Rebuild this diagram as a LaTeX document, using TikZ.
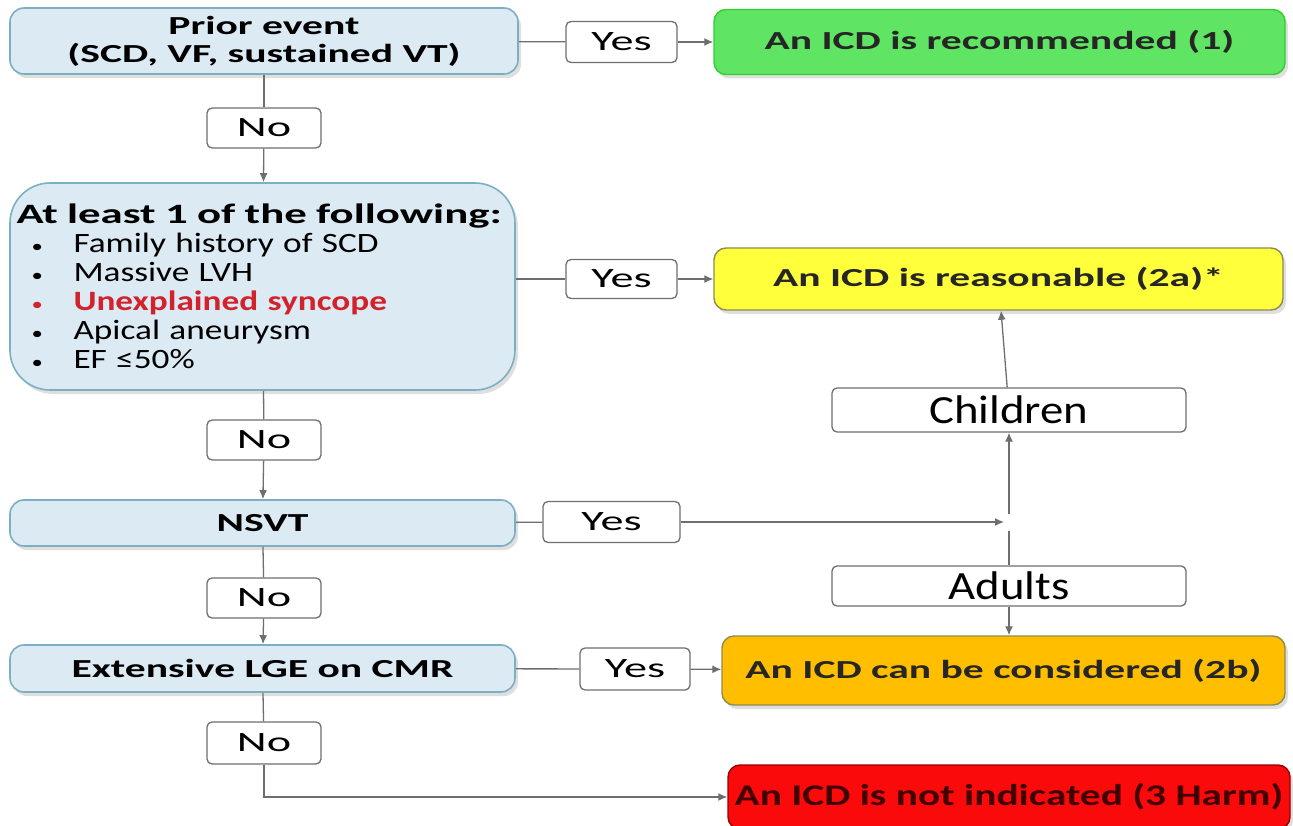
\documentclass[tikz,border=0pt]{standalone}
\usepackage{fontspec}
\setmainfont{Carlito}
\newfontfamily\qfont{Carlito}[FakeStretch=1.6]
\newfontfamily\listfont{Carlito}[FakeStretch=1.26]
\newfontfamily\lblfont{Carlito}[FakeStretch=1.65]
\newfontfamily\agefont{Carlito}[FakeStretch=1.17]
\newfontfamily\harmfont{Carlito}[FakeStretch=1.38]
\usepackage{xcolor}
\usetikzlibrary{arrows.meta,positioning,shadows}

\definecolor{qfill}{RGB}{220,234,244}
\definecolor{qline}{RGB}{125,175,195}
\definecolor{recfill}{RGB}{95,228,100}
\definecolor{reafill}{RGB}{255,255,60}
\definecolor{consfill}{RGB}{255,190,0}
\definecolor{notfill}{RGB}{250,10,10}
\definecolor{synred}{RGB}{210,35,45}
\definecolor{wire}{RGB}{110,110,110}
\newcommand{\bul}{\makebox[57pt][l]{\hspace{15pt}\fontsize{18}{18}\selectfont\textbullet}}

\begin{document}
\begin{tikzpicture}[x=1pt,y=-1pt,
  q/.style={draw=qline,line width=1.6pt,fill=qfill,rounded corners=14pt,
    align=center,inner sep=0pt,font=\qfont\fontsize{26}{28}\selectfont\bfseries,
    drop shadow={shadow xshift=3pt,shadow yshift=-4pt,opacity=0.25}},
  res/.style={draw=olive!45!gray,line width=1.4pt,rounded corners=12pt,align=center,
    inner sep=0pt,font=\qfont\fontsize{26}{28}\selectfont\bfseries,text=black!85,
    drop shadow={shadow xshift=3pt,shadow yshift=-4pt,opacity=0.25}},
  lbl/.style={draw=wire,line width=1.3pt,fill=white,rounded corners=5pt,
    inner sep=0pt,font=\lblfont\fontsize{28}{30}\selectfont},
  age/.style={lbl,font=\agefont\fontsize{40}{42}\selectfont},
  arr/.style={-{Latex[length=9pt,width=8pt]},wire,line width=1.3pt},
  ln/.style={wire,line width=1.3pt}
]
\useasboundingbox (0,0) rectangle (1293,826);

% left column
\node[q,minimum width=508pt,minimum height=66pt] (prior) at (264,41)
  {Prior event\\(SCD, VF, sustained VT)};
\node[q,rounded corners=40pt,minimum width=505pt,minimum height=207pt,
  align=left,text width=492pt,font=\listfont\fontsize{28}{29}\selectfont] (crit) at (262.5,286.5)
  {{\qfont\fontsize{28}{29}\selectfont\bfseries At least 1 of the following:}\\
   \bul Family history of SCD\\
   \bul Massive LVH\\
   {\color{synred}\bul\bfseries Unexplained syncope}\\
   \bul Apical aneurysm\\
   \bul EF ≤50\%};
\node[q,minimum width=505pt,minimum height=46pt] (nsvt) at (262.5,523) {NSVT};
\node[q,minimum width=505pt,minimum height=47pt] (lge) at (262.5,668.5)
  {Extensive LGE on CMR};

% outcomes
\node[res,fill=recfill,draw=green!60!gray,minimum width=571pt,minimum height=65pt] (rec) at (999.5,42)
  {An ICD is recommended (1)};
\node[res,fill=reafill,minimum width=569pt,minimum height=62pt] (reas) at (998.5,279)
  {An ICD is reasonable (2a)*};
\node[res,fill=consfill,minimum width=563pt,minimum height=69pt] (cons) at (1003.5,670.5)
  {An ICD can be considered (2b)};
\node[res,fill=notfill,draw=red!60!black,minimum width=562pt,minimum height=64pt,text=red!25!black,
  font=\harmfont\fontsize{30}{32}\selectfont\bfseries] (notind)
  at (1009,797) {An ICD is not indicated (3 Harm)};

% yes / no labels
\node[lbl,minimum width=114pt,minimum height=40pt] (no1) at (264,128) {No};
\node[lbl,minimum width=114pt,minimum height=40pt] (no2) at (264,440) {No};
\node[lbl,minimum width=114pt,minimum height=40pt] (no3) at (264,598) {No};
\node[lbl,minimum width=114pt,minimum height=42pt] (no4) at (264,743) {No};
\node[lbl,minimum width=111pt,minimum height=41pt] (yes1) at (621.5,42) {Yes};
\node[lbl,minimum width=111pt,minimum height=39pt] (yes2) at (621.5,279) {Yes};
\node[lbl,minimum width=137pt,minimum height=41pt] (yes3) at (611.5,522) {Yes};
\node[lbl,minimum width=110pt,minimum height=42pt] (yes4) at (635,669) {Yes};

% age split
\node[age,minimum width=354pt,minimum height=44pt] (kids) at (1009,410) {Children};
\node[age,minimum width=354pt,minimum height=40pt] (adults) at (1009,586) {Adults};
\coordinate (jnin) at (1004,522);
\coordinate (jnup) at (1009,514);
\coordinate (jndn) at (1009,531);

% connectors
\draw[ln] (prior) -- (yes1);
\draw[arr] (yes1) -- (rec);
\draw[ln] (prior) -- (no1);
\draw[arr] (no1) -- (crit);
\draw[ln] (crit.east |- yes2) -- (yes2);
\draw[arr] (yes2) -- (reas);
\draw[ln] (crit) -- (no2);
\draw[arr] (no2) -- (nsvt);
\draw[ln] (nsvt) -- (yes3);
\draw[arr] (yes3) -- (jnin);
\draw[arr] (jnup) -- (kids);
\draw[arr] (kids) -- (reas);
\draw[ln] (jndn) -- (adults);
\draw[arr] (adults) -- (cons.north -| adults);
\draw[ln] (nsvt) -- (no3);
\draw[arr] (no3) -- (lge);
\draw[ln] (lge) -- (yes4);
\draw[arr] (yes4) -- (cons);
\draw[ln] (lge) -- (no4);
\draw[arr] (no4) |- (notind);
\end{tikzpicture}
\end{document}
